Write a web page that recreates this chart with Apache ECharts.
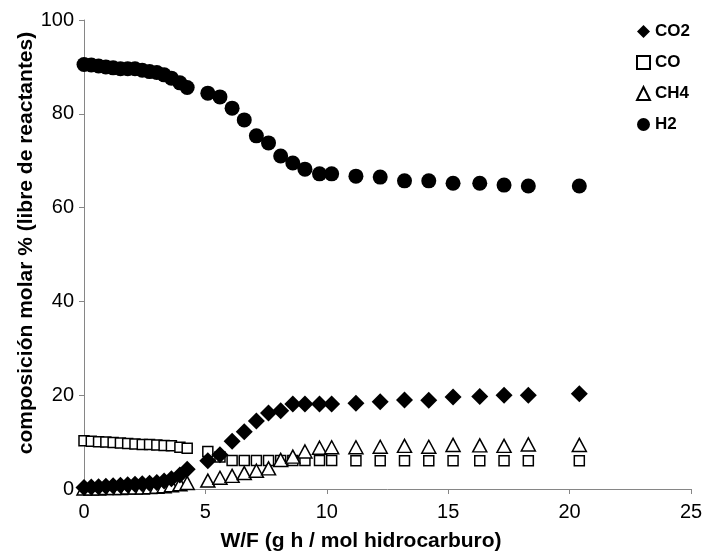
<!DOCTYPE html>
<html>
<head>
<meta charset="utf-8">
<script src="https://cdn.jsdelivr.net/npm/echarts@6/dist/echarts.min.js"></script>
<style>html,body{margin:0;padding:0;background:#fff}#c{width:713px;height:552px}</style>
</head>
<body>
<div id="c"></div>
<script>
const wf = [0,0.3,0.6,0.9,1.2,1.5,1.8,2.1,2.4,2.7,3.0,3.3,3.6,3.95,4.25, 5.1,5.6,6.1,6.6,7.1,7.6,8.1,8.6,9.1,9.7,10.2, 11.2,12.2,13.2,14.2,15.2,16.3,17.3,18.3,20.4];
const co2 = [0.3,0.4,0.5,0.6,0.7,0.8,0.9,1.0,1.1,1.2,1.4,1.7,2.2,3.0,4.2, 6.0,7.3,10.2,12.2,14.5,16.2,16.7,18.1,18.1,18.1,18.1, 18.3,18.6,19.0,18.9,19.6,19.7,20.0,20.0,20.3];
const co = [10.3,10.2,10.1,10.0,9.9,9.8,9.7,9.6,9.5,9.5,9.4,9.3,9.2,8.9,8.7, 8.0,6.8,6.1,6.1,6.1,6.1,6.1,6.1,6.1,6.1,6.1, 6.0,6.0,6.0,6.0,6.0,6.0,6.0,6.0,6.0];
const ch4 = [0.1,0.1,0.1,0.2,0.2,0.2,0.3,0.3,0.3,0.4,0.5,0.6,0.8,1.0,1.3, 1.8,2.4,2.8,3.4,3.9,4.4,6.2,6.9,8.0,8.8,8.9, 8.9,9.0,9.2,9.0,9.4,9.3,9.2,9.5,9.4];
const h2 = [90.5,90.4,90.2,90.0,89.8,89.6,89.6,89.6,89.3,89.0,88.8,88.3,87.6,86.6,85.6, 84.4,83.6,81.2,78.7,75.3,73.8,71.0,69.5,68.2,67.2,67.2, 66.7,66.5,65.7,65.7,65.2,65.2,64.8,64.6,64.6];
const seriesNames = ['CO2','CO','CH4','H2'];
const xTitle = 'W/F (g h / mol hidrocarburo)';
const yTitle = 'composición molar % (libre de reactantes)';

const pts = arr => wf.map((x,i)=>[x,arr[i]]);
const FONT = '"Liberation Sans", Arial, sans-serif';
const axisCommon = {
  axisLine:{show:true,onZero:false,lineStyle:{color:'#868686',width:1}},
  axisTick:{show:true,inside:false,length:5,lineStyle:{color:'#868686'}},
  splitLine:{show:false},
  axisLabel:{color:'#000',fontFamily:FONT,fontSize:20}
};
const chart = echarts.init(document.getElementById('c'), null, {renderer:'canvas'});
chart.setOption({
  animation:false,
  backgroundColor:'#fff',
  grid:{left:84,right:22,top:20,bottom:63,containLabel:false},
  xAxis:Object.assign({type:'value',min:0,max:25,interval:5},axisCommon,{axisLabel:Object.assign({},axisCommon.axisLabel,{margin:13})}),
  yAxis:Object.assign({type:'value',min:0,max:100,interval:20},axisCommon,{axisLabel:Object.assign({},axisCommon.axisLabel,{margin:10})}),
  legend:{
    orient:'vertical',left:631,top:18,padding:5,itemWidth:13,itemHeight:13,itemGap:14,
    textStyle:{color:'#000',fontFamily:FONT,fontSize:17,fontWeight:'bold'},
    data:seriesNames
  },
  graphic:[
    {type:'text',x:26,y:243,rotation:Math.PI/2,style:{text:yTitle,fill:'#000',font:'bold 21px '+FONT,textAlign:'center',textVerticalAlign:'middle'}},
    {type:'text',x:361,y:541,style:{text:xTitle,fill:'#000',font:'bold 21px '+FONT,textAlign:'center',textVerticalAlign:'middle'}}
  ],
  series:[
    {name:seriesNames[0],type:'scatter',z:3,data:pts(co2),symbol:'diamond',symbolSize:17,itemStyle:{color:'#000',opacity:1}},
    {name:seriesNames[1],type:'scatter',z:2,data:pts(co),symbol:'rect',symbolSize:10,itemStyle:{color:'#fff',borderColor:'#000',borderWidth:1.5,opacity:1}},
    {name:seriesNames[2],type:'scatter',z:2,data:pts(ch4),symbol:'triangle',symbolSize:[14,13],itemStyle:{color:'#fff',borderColor:'#000',borderWidth:1.5,opacity:1}},
    {name:seriesNames[3],type:'scatter',z:2,data:pts(h2),symbol:'circle',symbolSize:15,itemStyle:{color:'#000',opacity:1}}
  ]
});
</script>
</body>
</html>
